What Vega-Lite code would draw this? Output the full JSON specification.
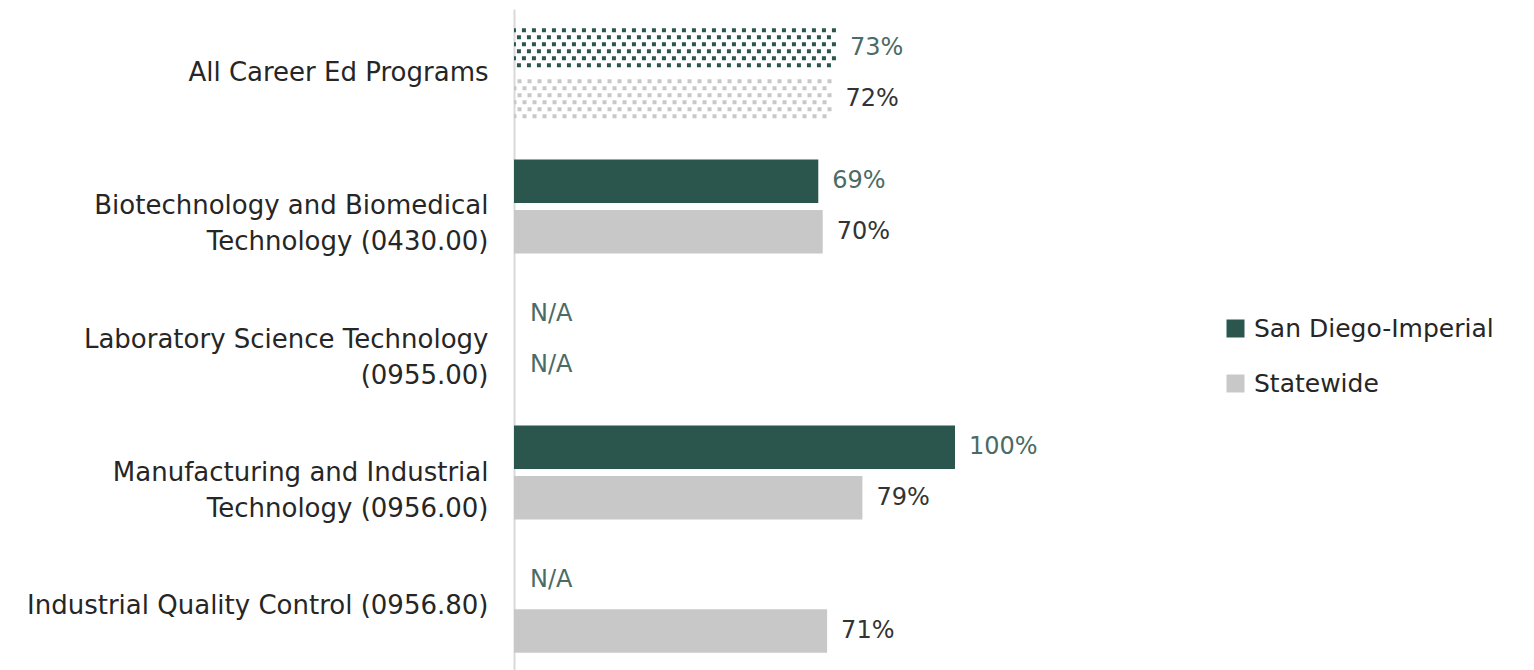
{
  "$schema": "https://vega.github.io/schema/vega-lite/v6.json",
  "autosize": "none",
  "width": 441,
  "height": 661,
  "padding": {"left": 514, "top": 9, "right": 579, "bottom": 0},
  "background": "white",
  "config": {
    "view": {"stroke": null},
    "font": "DejaVu Sans",
    "text": {"font": "DejaVu Sans"}
  },
  "data": {
    "values": [
      {"category": "All Career Ed Programs", "series": "San Diego-Imperial", "value": 0.73},
      {"category": "All Career Ed Programs", "series": "Statewide", "value": 0.72},
      {"category": "Biotechnology and Biomedical|Technology (0430.00)", "series": "San Diego-Imperial", "value": 0.69},
      {"category": "Biotechnology and Biomedical|Technology (0430.00)", "series": "Statewide", "value": 0.70},
      {"category": "Laboratory Science Technology|(0955.00)", "series": "San Diego-Imperial", "value": null},
      {"category": "Laboratory Science Technology|(0955.00)", "series": "Statewide", "value": null},
      {"category": "Manufacturing and Industrial|Technology (0956.00)", "series": "San Diego-Imperial", "value": 1.00},
      {"category": "Manufacturing and Industrial|Technology (0956.00)", "series": "Statewide", "value": 0.79},
      {"category": "Industrial Quality Control (0956.80)", "series": "San Diego-Imperial", "value": null},
      {"category": "Industrial Quality Control (0956.80)", "series": "Statewide", "value": 0.71}
    ]
  },
  "encoding": {
    "y": {
      "field": "category", "type": "nominal",
      "sort": ["All Career Ed Programs", "Biotechnology and Biomedical|Technology (0430.00)", "Laboratory Science Technology|(0955.00)", "Manufacturing and Industrial|Technology (0956.00)", "Industrial Quality Control (0956.80)"],
      "scale": {"paddingInner": 0.293, "paddingOuter": 0.13, "domain": ["All Career Ed Programs", "Biotechnology and Biomedical|Technology (0430.00)", "Laboratory Science Technology|(0955.00)", "Manufacturing and Industrial|Technology (0956.00)", "Industrial Quality Control (0956.80)"]},
      "axis": {
        "title": null, "ticks": false, "domainColor": "#d9d9d9", "domainWidth": 2,
        "labelPadding": 26, "labelFontSize": 26, "labelColor": "#262626",
        "labelLimit": 0, "labelLineHeight": 36,
        "labelExpr": "split(datum.label, '|')"
      }
    }
  },
  "layer": [
    {
      "mark": {"type": "bar"},
      "encoding": {
        "x": {"field": "value", "type": "quantitative", "scale": {"domain": [0, 1]}, "axis": null},
        "yOffset": {"field": "series", "type": "nominal", "scale": {"paddingInner": 0.14, "domain": ["San Diego-Imperial", "Statewide"]}},
        "color": {
          "field": "series", "type": "nominal",
          "scale": {"domain": ["San Diego-Imperial", "Statewide"], "range": ["#2a564d", "#c8c8c8"]},
          "legend": {
            "title": null, "orient": "none", "legendX": 709, "legendY": 307,
            "symbolType": "square", "symbolSize": 324, "symbolStrokeWidth": 0,
            "labelFontSize": 25, "labelColor": "#262626", "rowPadding": 29, "labelOffset": 6, "labelLimit": 0
          }
        },
        "fillOpacity": {"condition": {"test": "datum.category == 'All Career Ed Programs'", "value": 0}, "value": 1}
      }
    },
    {"transform": [{"filter": "datum.category == 'All Career Ed Programs' && datum.series == 'San Diego-Imperial'"}], "mark": {"type": "rule", "color": "#2a564d", "strokeWidth": 4, "strokeDash": [4, 6], "strokeCap": "butt", "yOffset": 4}, "encoding": {"y": {"field": "category", "type": "nominal", "bandPosition": 0}, "x": {"field": "value", "type": "quantitative"}, "x2": {"datum": 0}}},
    {"transform": [{"filter": "datum.category == 'All Career Ed Programs' && datum.series == 'San Diego-Imperial'"}], "mark": {"type": "rule", "color": "#2a564d", "strokeWidth": 4, "strokeDash": [4, 6], "strokeDashOffset": 5, "strokeCap": "butt", "yOffset": 11}, "encoding": {"y": {"field": "category", "type": "nominal", "bandPosition": 0}, "x": {"field": "value", "type": "quantitative"}, "x2": {"datum": 0}}},
    {"transform": [{"filter": "datum.category == 'All Career Ed Programs' && datum.series == 'San Diego-Imperial'"}], "mark": {"type": "rule", "color": "#2a564d", "strokeWidth": 4, "strokeDash": [4, 6], "strokeCap": "butt", "yOffset": 18}, "encoding": {"y": {"field": "category", "type": "nominal", "bandPosition": 0}, "x": {"field": "value", "type": "quantitative"}, "x2": {"datum": 0}}},
    {"transform": [{"filter": "datum.category == 'All Career Ed Programs' && datum.series == 'San Diego-Imperial'"}], "mark": {"type": "rule", "color": "#2a564d", "strokeWidth": 4, "strokeDash": [4, 6], "strokeDashOffset": 5, "strokeCap": "butt", "yOffset": 25}, "encoding": {"y": {"field": "category", "type": "nominal", "bandPosition": 0}, "x": {"field": "value", "type": "quantitative"}, "x2": {"datum": 0}}},
    {"transform": [{"filter": "datum.category == 'All Career Ed Programs' && datum.series == 'San Diego-Imperial'"}], "mark": {"type": "rule", "color": "#2a564d", "strokeWidth": 4, "strokeDash": [4, 6], "strokeCap": "butt", "yOffset": 32}, "encoding": {"y": {"field": "category", "type": "nominal", "bandPosition": 0}, "x": {"field": "value", "type": "quantitative"}, "x2": {"datum": 0}}},
    {"transform": [{"filter": "datum.category == 'All Career Ed Programs' && datum.series == 'San Diego-Imperial'"}], "mark": {"type": "rule", "color": "#2a564d", "strokeWidth": 4, "strokeDash": [4, 6], "strokeDashOffset": 5, "strokeCap": "butt", "yOffset": 39}, "encoding": {"y": {"field": "category", "type": "nominal", "bandPosition": 0}, "x": {"field": "value", "type": "quantitative"}, "x2": {"datum": 0}}},
    {"transform": [{"filter": "datum.category == 'All Career Ed Programs' && datum.series == 'Statewide'"}], "mark": {"type": "rule", "color": "#c8c8c8", "strokeWidth": 4, "strokeDash": [4, 6], "strokeCap": "butt", "yOffset": 55}, "encoding": {"y": {"field": "category", "type": "nominal", "bandPosition": 0}, "x": {"field": "value", "type": "quantitative"}, "x2": {"datum": 0}}},
    {"transform": [{"filter": "datum.category == 'All Career Ed Programs' && datum.series == 'Statewide'"}], "mark": {"type": "rule", "color": "#c8c8c8", "strokeWidth": 4, "strokeDash": [4, 6], "strokeDashOffset": 5, "strokeCap": "butt", "yOffset": 62}, "encoding": {"y": {"field": "category", "type": "nominal", "bandPosition": 0}, "x": {"field": "value", "type": "quantitative"}, "x2": {"datum": 0}}},
    {"transform": [{"filter": "datum.category == 'All Career Ed Programs' && datum.series == 'Statewide'"}], "mark": {"type": "rule", "color": "#c8c8c8", "strokeWidth": 4, "strokeDash": [4, 6], "strokeCap": "butt", "yOffset": 69}, "encoding": {"y": {"field": "category", "type": "nominal", "bandPosition": 0}, "x": {"field": "value", "type": "quantitative"}, "x2": {"datum": 0}}},
    {"transform": [{"filter": "datum.category == 'All Career Ed Programs' && datum.series == 'Statewide'"}], "mark": {"type": "rule", "color": "#c8c8c8", "strokeWidth": 4, "strokeDash": [4, 6], "strokeDashOffset": 5, "strokeCap": "butt", "yOffset": 76}, "encoding": {"y": {"field": "category", "type": "nominal", "bandPosition": 0}, "x": {"field": "value", "type": "quantitative"}, "x2": {"datum": 0}}},
    {"transform": [{"filter": "datum.category == 'All Career Ed Programs' && datum.series == 'Statewide'"}], "mark": {"type": "rule", "color": "#c8c8c8", "strokeWidth": 4, "strokeDash": [4, 6], "strokeCap": "butt", "yOffset": 83}, "encoding": {"y": {"field": "category", "type": "nominal", "bandPosition": 0}, "x": {"field": "value", "type": "quantitative"}, "x2": {"datum": 0}}},
    {"transform": [{"filter": "datum.category == 'All Career Ed Programs' && datum.series == 'Statewide'"}], "mark": {"type": "rule", "color": "#c8c8c8", "strokeWidth": 4, "strokeDash": [4, 6], "strokeDashOffset": 5, "strokeCap": "butt", "yOffset": 90}, "encoding": {"y": {"field": "category", "type": "nominal", "bandPosition": 0}, "x": {"field": "value", "type": "quantitative"}, "x2": {"datum": 0}}},
    {
      "transform": [{"filter": "isValid(datum.value)"}],
      "mark": {"type": "text", "align": "left", "baseline": "middle", "dx": 14, "fontSize": 24},
      "encoding": {
        "x": {"field": "value", "type": "quantitative"},
        "yOffset": {"field": "series", "type": "nominal", "scale": {"paddingInner": 0.14, "domain": ["San Diego-Imperial", "Statewide"]}},
        "text": {"field": "value", "type": "quantitative", "format": ".0%"},
        "color": {"condition": {"test": "datum.series == 'Statewide'", "value": "#333333"}, "value": "#4a6b66"}
      }
    },
    {
      "transform": [{"filter": "!isValid(datum.value)"}],
      "mark": {"type": "text", "align": "left", "baseline": "middle", "dx": 16, "fontSize": 24, "color": "#4a6b66", "text": "N/A"},
      "encoding": {
        "x": {"datum": 0, "type": "quantitative"},
        "yOffset": {"field": "series", "type": "nominal", "scale": {"paddingInner": 0.14, "domain": ["San Diego-Imperial", "Statewide"]}}
      }
    }
  ]
}
